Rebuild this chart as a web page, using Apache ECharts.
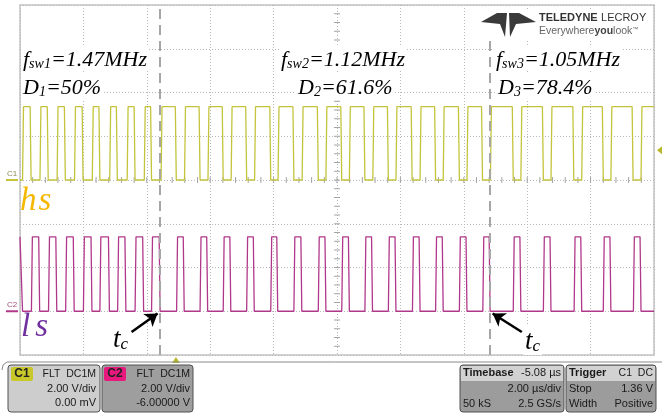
<!DOCTYPE html>
<html>
<head>
<meta charset="utf-8">
<script src="https://cdn.jsdelivr.net/npm/echarts@6/dist/echarts.min.js"></script>
<style>
  html, body { margin: 0; padding: 0; background: #ffffff; }
  #scope { width: 662px; height: 415px; }
</style>
</head>
<body>
<div id="scope"></div>
<script>
// Gate-drive capture: high-side gate (C1, "hs") and low-side gate (C2, "ls")
// 2 µs/div horizontally (10 div), 2 V/div vertically (8 div).

const timeRangeUs = [-10, 10];
const voltRange = [-8, 8];
const timeDivUs = 2;
const voltDiv = 2;

// Edge times (µs) of the high-side gate
const hsRise = [-9.92, -9.37, -8.83, -8.28, -7.72, -7.17, -6.62, -6.08, -5.55,
  -4.81, -4.07, -3.34, -2.60, -1.86, -1.10, -0.35, 0.39, 1.13, 1.86, 2.62, 3.35, 4.10, 4.84,
  5.80, 6.75, 7.72, 8.64, 9.59];
const hsFall = [-9.68, -9.14, -8.60, -8.04, -7.51, -6.96, -6.40, -5.88, -5.10,
  -4.35, -3.62, -2.88, -2.12, -1.39, -0.62, 0.12, 0.85, 1.59, 2.34, 3.08, 3.83, 4.56,
  5.53, 6.48, 7.44, 8.37, 9.31];

// Edge times (µs) of the low-side gate (high at the left edge of the record)
const lsRise = [-9.64, -9.10, -8.56, -8.00, -7.48, -6.92, -6.37, -5.85,
  -5.06, -4.32, -3.59, -2.85, -2.09, -1.36, -0.59, 0.15, 0.88, 1.62, 2.38, 3.11, 3.86, 4.60,
  5.56, 6.51, 7.48, 8.40, 9.35];
const lsFall = [-9.95, -9.41, -8.87, -8.32, -7.76, -7.21, -6.69, -6.13, -5.61,
  -4.85, -4.11, -3.38, -2.64, -1.90, -1.14, -0.38, 0.36, 1.09, 1.83, 2.59, 3.32, 4.07, 4.80,
  5.77, 6.72, 7.69, 8.61, 9.56];

const hsHighV = 3.35;
const lsHighV = 3.4;
const c1OffsetV = 0;
const c2OffsetV = -6;
const lsStartsHigh = true;

// Instants where the switching frequency / duty ratio changes
const tcTimes = [-5.58, 4.83];

// Operating point of each interval
const fswLabels = ['1.47MHz', '1.12MHz', '1.05MHz'];
const dutyLabels = ['50%', '61.6%', '78.4%'];

const triggerDelayUs = -5.08;
const triggerLevelV = 1.36;

const EDGE_US = 0.03;

function edgesToTrace(rise, fall, highV, offsetV, startHigh) {
  const events = rise.map(t => [t, 1]).concat(fall.map(t => [t, 0]));
  events.sort((a, b) => a[0] - b[0]);
  let level = startHigh ? highV : 0;
  const pts = [[timeRangeUs[0], level + offsetV]];
  events.forEach(([t, up]) => {
    const next = up ? highV : 0;
    pts.push([t, level + offsetV]);
    pts.push([t + EDGE_US, next + offsetV]);
    level = next;
  });
  pts.push([timeRangeUs[1], level + offsetV]);
  return pts;
}

const hsTrace = edgesToTrace(hsRise, hsFall, hsHighV, c1OffsetV, false);
const lsTrace = edgesToTrace(lsRise, lsFall, lsHighV, c2OffsetV, lsStartsHigh);

const C1_COLOR = '#c4c43c';
const C2_COLOR = '#b0388a';
const GRID_DOT = '#b8b8b8';
const TICK = '#a4a4a4';

const chart = echarts.init(document.getElementById('scope'), null, { renderer: 'canvas' });

const hiddenAxis = {
  axisLabel: { show: false },
  axisLine: { show: false },
  axisTick: { show: false }
};

chart.setOption({
  animation: false,
  backgroundColor: '#ffffff',
  grid: {
    left: 20, top: 5, width: 634, height: 350,
    show: true, borderColor: '#c4c4c4', borderWidth: 1.5, backgroundColor: '#ffffff'
  },
  xAxis: Object.assign({}, hiddenAxis, {
    type: 'value', min: timeRangeUs[0], max: timeRangeUs[1], interval: timeDivUs,
    splitLine: { show: true, lineStyle: { color: GRID_DOT, type: [1, 2], width: 1 } }
  }),
  yAxis: Object.assign({}, hiddenAxis, {
    type: 'value', min: voltRange[0], max: voltRange[1], interval: voltDiv,
    splitLine: { show: true, lineStyle: { color: GRID_DOT, type: [1, 2], width: 1 } }
  }),
  series: [
    {
      name: 'C1 hs', type: 'line', data: hsTrace, showSymbol: false, z: 3,
      lineStyle: { color: C1_COLOR, width: 1.3 },
      markLine: {
        silent: true, symbol: ['none', 'none'], animation: false,
        label: { show: false },
        lineStyle: { color: '#a6a6a6', width: 2, type: [10, 6] },
        data: tcTimes.map(t => ({ xAxis: t }))
      }
    },
    {
      name: 'C2 ls', type: 'line', data: lsTrace, showSymbol: false, z: 3,
      lineStyle: { color: C2_COLOR, width: 1.3 },
      markLine: {
        silent: true, symbol: ['none', 'arrow'], symbolSize: 12, animation: false,
        label: { show: false },
        lineStyle: { color: '#000000', width: 2.5, type: 'solid' },
        data: [
          [{ coord: [tcTimes[0] - 0.9, -6.95] }, { coord: [tcTimes[0] - 0.08, -6.1] }],
          [{ coord: [tcTimes[1] + 1.0, -6.95] }, { coord: [tcTimes[1] + 0.08, -6.1] }]
        ]
      }
    }
  ]
});

// ---------- overlay: graticule ticks, annotations, markers, readout boxes ----------
const px = (t, v) => chart.convertToPixel({ xAxisIndex: 0, yAxisIndex: 0 }, [t, v]);
const SERIF = '"Liberation Serif", "Times New Roman", serif';
const SANS = '"Liberation Sans", Arial, sans-serif';

const els = [];

// minor ticks on the centre cross (5 per division)
const MINOR = 5;
for (let k = 1; k < (timeRangeUs[1] - timeRangeUs[0]) / timeDivUs * MINOR; k++) {
  const p = px(timeRangeUs[0] + k * timeDivUs / MINOR, 0);
  els.push({ type: 'line', z: 1, silent: true,
    shape: { x1: p[0], y1: p[1] - 3, x2: p[0], y2: p[1] + 3 },
    style: { stroke: TICK, lineWidth: 1 } });
}
for (let k = 1; k < (voltRange[1] - voltRange[0]) / voltDiv * MINOR; k++) {
  const p = px(0, voltRange[0] + k * voltDiv / MINOR);
  els.push({ type: 'line', z: 1, silent: true,
    shape: { x1: p[0] - 3, y1: p[1], x2: p[0] + 3, y2: p[1] },
    style: { stroke: TICK, lineWidth: 1 } });
}

function richLabel(x, y, main, sub, rest, size, color) {
  return {
    type: 'text', x: x, y: y, z: 50,
    style: {
      text: '{i|' + main + '}{s|' + sub + '}{i|' + rest + '}',
      fill: color || '#000',
      backgroundColor: '#ffffff',
      padding: [0, 2, 0, 2],
      rich: {
        i: { fontFamily: SERIF, fontStyle: 'italic', fontSize: size, lineHeight: size + 4,
             verticalAlign: 'bottom', fill: color || '#000' },
        s: { fontFamily: SERIF, fontStyle: 'italic', fontSize: Math.round(size * 0.62),
             lineHeight: Math.round(size * 0.62), verticalAlign: 'bottom', fill: color || '#000' }
      }
    }
  };
}

function spacedLabel(x, y, a, b, size, gap, color) {
  return {
    type: 'text', x: x, y: y, z: 50,
    style: {
      text: '{a|' + a + '}{b|' + b + '}',
      rich: {
        a: { fontFamily: SERIF, fontStyle: 'italic', fontSize: size, fill: color, padding: [0, gap, 0, 0] },
        b: { fontFamily: SERIF, fontStyle: 'italic', fontSize: size, fill: color }
      }
    }
  };
}

function plainText(x, y, str, opts) {
  opts = opts || {};
  return {
    type: 'text', x: x, y: y, z: 60,
    style: {
      text: str,
      font: (opts.bold ? 'bold ' : '') + (opts.size || 11) + 'px ' + (opts.family || SANS),
      fill: opts.color || '#1a1a1a',
      align: opts.align || 'left',
      verticalAlign: 'middle'
    }
  };
}

function rect(x, y, w, h, fill, stroke, r) {
  return {
    type: 'rect', z: 55,
    shape: { x: x, y: y, width: w, height: h, r: r || 0 },
    style: { fill: fill, stroke: stroke || null, lineWidth: stroke ? 1 : 0 }
  };
}

// interval annotations
const fswX = [21, 279, 494];
const dutyX = [21, 296, 496];
for (let i = 0; i < 3; i++) {
  els.push(richLabel(fswX[i], 45, 'f', 'sw' + (i + 1), '=' + fswLabels[i], 22));
  els.push(richLabel(dutyX[i], 73, 'D', String(i + 1), '=' + dutyLabels[i], 22));
}

// trace names
els.push(spacedLabel(20, 185, 'h', 's', 33, 2, '#f5b800'));
els.push(spacedLabel(21, 311, 'l', 's', 33, 5, '#7030a0'));

// t_c labels next to the arrows
const tcL = px(tcTimes[0], 0);
const tcR = px(tcTimes[1], 0);
els.push(richLabel(tcL[0] - 49, 322, 't', 'c', '', 27));
els.push(richLabel(tcR[0] + 33, 324, 't', 'c', '', 27));

// channel ground markers on the left
const g1 = px(timeRangeUs[0], c1OffsetV);
const g2 = px(timeRangeUs[0], c2OffsetV);
els.push(plainText(7, g1[1] - 6, 'C1', { size: 8, color: '#8c8c5a' }));
els.push(rect(6, g1[1] - 1, 12, 2, C1_COLOR));
els.push(plainText(7, g2[1] - 6, 'C2', { size: 8, color: '#a0507a' }));
els.push(rect(6, g2[1] - 1, 12, 2, C2_COLOR));

// trigger level marker (right edge) and trigger position marker (below grid)
const tl = px(timeRangeUs[1], triggerLevelV);
els.push({ type: 'polygon', z: 50,
  shape: { points: [[tl[0] + 3, tl[1]], [tl[0] + 8, tl[1] - 4], [tl[0] + 8, tl[1] + 4]] },
  style: { fill: '#b8b82a' } });
const tp = px(triggerDelayUs, voltRange[0]);
els.push({ type: 'polygon', z: 50,
  shape: { points: [[tp[0], tp[1] + 2], [tp[0] - 4, tp[1] + 8], [tp[0] + 4, tp[1] + 8]] },
  style: { fill: '#b8b82a' } });

// logo
els.push(rect(478, 9, 172, 32, '#ffffff'));
els.push({ type: 'polygon', z: 60,
  shape: { points: [[481, 22], [497, 13], [507, 13], [505, 37], [500, 24]] }, style: { fill: '#3a3a3a' } });
els.push({ type: 'polygon', z: 60,
  shape: { points: [[509, 13], [519, 13], [536, 22], [516, 24], [510, 37]] }, style: { fill: '#3a3a3a' } });
els.push({ type: 'text', x: 539, y: 12, z: 60,
  style: { text: '{b|TELEDYNE} {n|LECROY}', rich: {
    b: { fontFamily: SANS, fontWeight: 'bold', fontSize: 11, fill: '#333' },
    n: { fontFamily: SANS, fontSize: 11, fill: '#333' } } } });
els.push({ type: 'text', x: 539, y: 26, z: 60,
  style: { text: '{n|Everywhere}{b|you}{n|look}{t|™}', rich: {
    b: { fontFamily: SANS, fontWeight: 'bold', fontSize: 10.5, fill: '#444' },
    n: { fontFamily: SANS, fontSize: 10.5, fill: '#666' },
    t: { fontFamily: SANS, fontSize: 6, fill: '#666', verticalAlign: 'top' } } } });

// separator above the readouts
els.push({ type: 'polyline', z: 50,
  shape: { points: [[2, 370], [3, 365], [7, 362], [662, 362]] },
  style: { stroke: '#8a8a8a', lineWidth: 1, fill: null } });

// C1 readout
els.push(rect(8, 365, 92, 47, '#cdcdcd', '#505050', 3));
els.push(rect(11, 367, 22, 14, '#c8c82a', null, 2));
els.push(plainText(22, 374, 'C1', { bold: true, size: 12, align: 'center', color: '#222' }));
els.push(plainText(96, 374, 'FLT  DC1M', { align: 'right', size: 10.5 }));
els.push(plainText(96, 389, '2.00 V/div', { align: 'right', size: 11 }));
els.push(plainText(96, 403, '0.00 mV', { align: 'right', size: 11 }));

// C2 readout
els.push(rect(102, 365, 91, 47, '#9e9e9e', '#505050', 3));
els.push(rect(104, 367, 22, 14, '#e8187f', null, 2));
els.push(plainText(115, 374, 'C2', { bold: true, size: 12, align: 'center', color: '#222' }));
els.push(plainText(190, 374, 'FLT  DC1M', { align: 'right', size: 10.5 }));
els.push(plainText(190, 389, '2.00 V/div', { align: 'right', size: 11 }));
els.push(plainText(190, 403, '-6.00000 V', { align: 'right', size: 11 }));

// Timebase readout
els.push(rect(460, 365, 104, 47, '#9c9c9c', '#505050', 3));
els.push(rect(461, 366, 102, 15, '#d2d2d2'));
els.push(plainText(463, 373, 'Timebase', { bold: true, size: 11 }));
els.push(plainText(561, 373, '-5.08 µs', { align: 'right', size: 11 }));
els.push(plainText(561, 389, '2.00 µs/div', { align: 'right', size: 11 }));
els.push(plainText(463, 404, '50 kS', { size: 11 }));
els.push(plainText(561, 404, '2.5 GS/s', { align: 'right', size: 11 }));

// Trigger readout
els.push(rect(566, 365, 90, 47, '#9c9c9c', '#505050', 3));
els.push(rect(567, 366, 88, 15, '#d2d2d2'));
els.push(plainText(569, 373, 'Trigger', { bold: true, size: 11 }));
els.push(plainText(653, 373, 'C1  DC', { align: 'right', size: 10.5 }));
els.push(plainText(569, 389, 'Stop', { size: 11 }));
els.push(plainText(653, 389, '1.36 V', { align: 'right', size: 11 }));
els.push(plainText(569, 404, 'Width', { size: 11 }));
els.push(plainText(653, 404, 'Positive', { align: 'right', size: 11 }));

chart.setOption({ graphic: { elements: els } });
</script>
</body>
</html>
